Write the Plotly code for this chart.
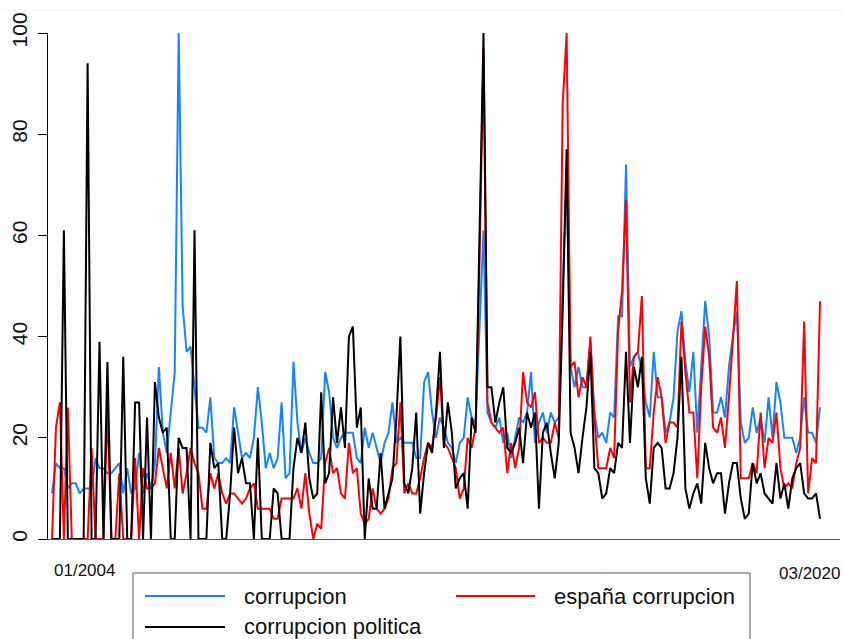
import plotly.graph_objects as go
import pandas as pd

months = pd.date_range("2004-01-01", "2020-03-01", freq="MS").strftime("%m/%Y").tolist()

corrupcion = [
    9, 15, 14, 14, 10, 11, 11, 9, 10, 10,
    10, 16, 14, 14, 13, 13, 14, 15, 9, 14,
    9, 10, 17, 9, 13, 10, 15, 34, 21, 17,
    25, 33, 100, 46, 37, 38, 30, 22, 22, 21,
    28, 16, 15, 15, 16, 15, 26, 21, 16, 17,
    16, 20, 30, 23, 14, 17, 14, 16, 27, 12,
    13, 35, 23, 17, 20, 17, 15, 15, 16, 33,
    29, 20, 18, 20, 21, 21, 21, 16, 15, 22,
    18, 21, 18, 15, 19, 21, 27, 19, 20, 19,
    19, 19, 16, 16, 31, 33, 25, 20, 24, 22,
    19, 18, 15, 19, 20, 28, 24, 23, 42, 61,
    25, 23, 22, 24, 19, 21, 16, 20, 24, 23,
    25, 33, 19, 23, 25, 21, 25, 23, 24, 50,
    72, 34, 30, 34, 30, 30, 39, 25, 20, 21,
    19, 25, 24, 44, 44, 74, 34, 36, 37, 33,
    27, 24, 37, 28, 28, 21, 23, 28, 41, 45,
    35, 29, 37, 21, 35, 47, 40, 25, 25, 28,
    24, 34, 40, 45, 23, 19, 20, 26, 21, 24,
    19, 28, 20, 31, 27, 20, 20, 20, 17, 20,
    28, 21, 21, 19, 26,
]

espana_corrupcion = [
    0, 22, 27, 0, 26, 0, 0, 0, 0, 0,
    18, 0, 0, 0, 26, 0, 0, 13, 0, 0,
    0, 16, 0, 14, 10, 10, 11, 18, 14, 10,
    17, 10, 18, 9, 13, 18, 15, 13, 6, 6,
    13, 10, 13, 9, 7, 9, 9, 8, 7, 8,
    10, 11, 6, 6, 6, 6, 4, 4, 8, 8,
    8, 8, 10, 6, 13, 5, 0, 3, 2, 15,
    18, 13, 14, 9, 8, 19, 13, 14, 5, 3,
    4, 10, 6, 5, 6, 8, 14, 15, 27, 9,
    11, 9, 9, 12, 16, 19, 18, 24, 32, 19,
    18, 16, 14, 8, 10, 20, 18, 22, 55, 97,
    27, 23, 22, 21, 22, 13, 19, 14, 18, 33,
    27, 26, 29, 19, 20, 19, 19, 23, 20, 86,
    100, 34, 35, 28, 32, 30, 40, 24, 14, 14,
    14, 18, 16, 41, 49, 67, 27, 36, 37, 48,
    14, 14, 25, 32, 28, 19, 23, 23, 22, 43,
    33, 25, 25, 12, 30, 42, 36, 22, 21, 24,
    18, 28, 40, 51, 12, 12, 12, 15, 13, 25,
    14, 20, 19, 25, 14, 10, 11, 10, 15, 18,
    43, 9, 16, 15, 47,
]

corrupcion_politica = [
    0, 0, 0, 61, 0, 0, 0, 0, 0, 94,
    0, 0, 39, 0, 35, 0, 0, 0, 36, 0,
    0, 27, 27, 0, 24, 0, 31, 24, 21, 22,
    0, 0, 20, 18, 18, 0, 61, 0, 0, 0,
    19, 14, 15, 0, 0, 9, 22, 13, 16, 11,
    11, 0, 20, 0, 0, 0, 10, 9, 0, 0,
    0, 14, 20, 17, 23, 12, 8, 9, 29, 11,
    13, 28, 19, 26, 18, 40, 42, 22, 26, 0,
    12, 6, 6, 17, 6, 9, 12, 24, 40, 11,
    9, 14, 25, 5, 13, 19, 17, 25, 37, 18,
    27, 21, 10, 12, 13, 6, 24, 21, 60, 100,
    30, 30, 23, 27, 30, 18, 17, 19, 22, 15,
    25, 22, 25, 6, 21, 23, 17, 12, 19, 45,
    77, 21, 18, 13, 20, 26, 37, 14, 13, 8,
    9, 14, 13, 19, 18, 37, 19, 34, 30, 36,
    12, 7, 18, 19, 18, 10, 10, 13, 20, 36,
    10, 6, 9, 11, 7, 19, 14, 11, 13, 13,
    5, 11, 15, 15, 8, 4, 5, 15, 11, 13,
    9, 8, 7, 15, 8, 11, 6, 12, 14, 15,
    9, 8, 8, 9, 4,
]

series_names = ["corrupcion", "españa corrupcion", "corrupcion politica"]
y_ticks = [0, 20, 40, 60, 80, 100]
x_labels = ["01/2004", "03/2020"]

assert len(months) == len(corrupcion) == len(espana_corrupcion) == len(corrupcion_politica)

BLUE = "#1485FF"
RED = "#FF0000"
BLACK = "#000000"
FONT = "Liberation Sans, Arial, sans-serif"

idx = list(range(len(months)))
fig = go.Figure()
for name, vals, col in [
    (series_names[0], corrupcion, BLUE),
    (series_names[1], espana_corrupcion, RED),
    (series_names[2], corrupcion_politica, BLACK),
]:
    fig.add_trace(go.Scatter(
        x=idx, y=vals, mode="lines", name=name, customdata=months,
        hovertemplate="%{customdata}: %{y}<extra>" + name + "</extra>",
        line=dict(color=col, width=2), showlegend=False,
    ))

W, H = 843, 639
L, R, T, B = 48, 3, 33, 100
pw, ph = W - L - R, H - T - B
px_per = 768 / (len(months) - 1)

def px_x(px):
    return (px - L) / pw

def px_y(py):
    return (H - B - py) / ph

fig.update_layout(
    width=W, height=H,
    margin=dict(l=L, r=R, t=T, b=B),
    paper_bgcolor="white", plot_bgcolor="white",
    font=dict(family=FONT, color="#111111"),
    xaxis=dict(
        range=[-4 / px_per, (len(months) - 1) + 20 / px_per],
        showgrid=False, zeroline=False, showticklabels=False, ticks="",
        showline=True, linecolor="#555555", linewidth=1,
    ),
    yaxis=dict(
        range=[0, 100], tickvals=y_ticks, ticktext=[str(v) for v in y_ticks],
        tickangle=-90, tickfont=dict(size=21, family=FONT, color="#111111"),
        ticks="outside", ticklen=9, tickcolor="#000000", tickwidth=1,
        showline=True, linecolor="#000000", linewidth=1,
        showgrid=False, zeroline=False, ticklabelstandoff=3,
    ),
)

annotations = [
    dict(text=x_labels[0], xref="paper", yref="paper", x=px_x(52), y=px_y(570),
         xanchor="left", yanchor="middle", showarrow=False,
         font=dict(size=17, family=FONT, color="#111111")),
    dict(text=x_labels[1], xref="paper", yref="paper", x=px_x(842), y=px_y(573),
         xanchor="right", yanchor="middle", showarrow=False,
         font=dict(size=17, family=FONT, color="#111111")),
]
legend_items = [
    (series_names[0], BLUE, 145, 225, 242, 596),
    (series_names[1], RED, 456, 535, 552, 596),
    (series_names[2], BLACK, 145, 225, 242, 627),
]
shapes = [
    dict(type="rect", xref="paper", yref="paper",
         x0=px_x(133), x1=px_x(750), y0=px_y(573), y1=px_y(660),
         line=dict(color="#555555", width=1), fillcolor="rgba(0,0,0,0)"),
    dict(type="line", xref="paper", yref="paper",
         x0=px_x(3), x1=px_x(843), y0=px_y(10), y1=px_y(10),
         line=dict(color="#F0F0F0", width=1)),
]
for name, col, lx0, lx1, tx, ty in legend_items:
    shapes.append(dict(type="line", xref="paper", yref="paper",
                       x0=px_x(lx0), x1=px_x(lx1), y0=px_y(ty), y1=px_y(ty),
                       line=dict(color=col, width=2)))
    annotations.append(dict(text=name, xref="paper", yref="paper",
                            x=px_x(tx), y=px_y(ty), xanchor="left", yanchor="middle",
                            showarrow=False,
                            font=dict(size=22, family=FONT, color="#111111")))

fig.update_layout(annotations=annotations, shapes=shapes)
fig.write_html(
    "out.html",
    config={"displayModeBar": False},
    post_script="document.body.style.margin='0';document.body.style.overflow='hidden';",
)
